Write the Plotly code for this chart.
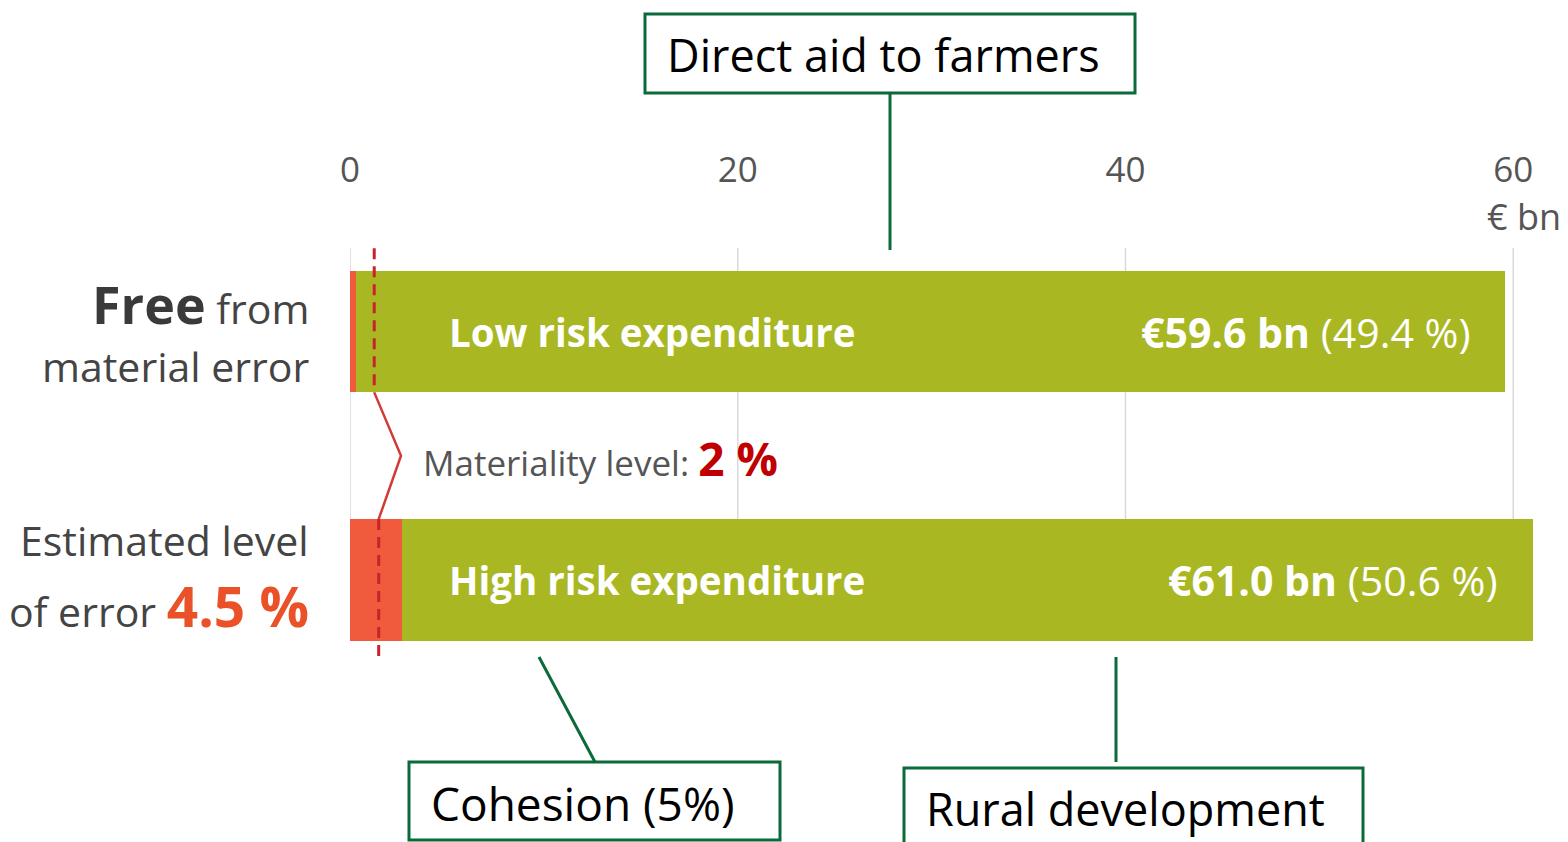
import plotly.graph_objects as go

# ---- data ----
categories = ["High risk expenditure", "Low risk expenditure"]
totals_bn = [61.0, 59.6]
shares_pct = [50.6, 49.4]
error_part_bn = [2.7, 0.3]
materiality_x = [1.48, 1.25]
tick_vals = [0, 20, 40, 60]
tick_text = ["0", "20", "40", "60"]

green_part = [t - e for t, e in zip(totals_bn, error_part_bn)]

W, H = 1568, 842
OFF = 8  # page body margin
ML, MT = 350 - OFF, 248 - OFF
MR = W - (1552 - OFF)
MB = H - (662 - OFF)
PW, PH = W - ML - MR, H - MT - MB
FONT = "Open Sans"
GREEN = "#a9b822"
RED_BAR = "#ef5b3c"
BOX_GREEN = "#0a6a3a"
BAR_W = 0.49


def px(xp):
    return (xp - OFF - ML) / PW


def py(yp):
    return (H - MB - (yp - OFF)) / PH


fig = go.Figure()
fig.add_trace(go.Bar(y=categories, x=error_part_bn, orientation="h", width=BAR_W,
                     marker=dict(color=RED_BAR, line_width=0), hoverinfo="skip"))
fig.add_trace(go.Bar(y=categories, x=green_part, orientation="h", width=BAR_W,
                     marker=dict(color=GREEN, line_width=0), hoverinfo="skip"))

# materiality dashed lines
for i, m in enumerate(materiality_x):
    if i == 1:
        ys = [i + BAR_W / 2 + 0.09, i - BAR_W / 2]
    else:
        ys = [i + BAR_W / 2, i - BAR_W / 2 - 0.09]
    fig.add_trace(go.Scatter(x=[m, m], y=ys, mode="lines", yaxis="y2",
                             line=dict(color="#c8232c", width=3, dash="11px,7px"),
                             hoverinfo="skip"))

# chevron
fig.add_trace(go.Scatter(x=[materiality_x[1], 2.63, materiality_x[0]],
                         y=[1 - BAR_W / 2, 0.5, BAR_W / 2], mode="lines", yaxis="y2",
                         line=dict(color="#d23a3a", width=2.5), hoverinfo="skip"))

yr = [-0.33, 1.336]
fig.update_layout(
    width=W, height=H, barmode="stack", showlegend=False,
    margin=dict(l=ML, r=MR, t=MT, b=MB),
    plot_bgcolor="white", paper_bgcolor="white",
    font=dict(family=FONT, color="#444"),
    xaxis=dict(range=[0, 62], side="top", tickvals=tick_vals, ticktext=tick_text,
               showgrid=False, zeroline=False,
               showline=False, ticks="", ticklabelstandoff=58,
               tickfont=dict(size=35, color="#555", family=FONT)),
    yaxis=dict(range=yr, showticklabels=False, showgrid=False, zeroline=False,
               showline=False, ticks=""),
    yaxis2=dict(range=yr, type="linear", overlaying="y", showticklabels=False,
                showgrid=False, zeroline=False, showline=False, ticks=""),
)

shapes = []
# gridlines (stop at the bottom bar)
for t in tick_vals:
    shapes.append(dict(type="line", xref="x", yref="y2", x0=t, x1=t,
                       y0=-BAR_W / 2, y1=yr[1], layer="below",
                       line=dict(color="#d9d9d9", width=1.5)))

# callout boxes and connectors
boxes = [
    (645, 14, 1135, 93),
    (409, 762, 780, 840),
    (904, 768, 1363, 860),
]
for x0, y0, x1, y1 in boxes:
    shapes.append(dict(type="rect", xref="paper", yref="paper", x0=px(x0), x1=px(x1),
                       y0=py(y1), y1=py(y0), line=dict(color=BOX_GREEN, width=3),
                       fillcolor="rgba(0,0,0,0)"))
connectors = [
    (890, 93, 890, 250),
    (539, 657, 595, 762),
    (1116, 657, 1116, 762),
]
for x0, y0, x1, y1 in connectors:
    shapes.append(dict(type="line", xref="paper", yref="paper", x0=px(x0), x1=px(x1),
                       y0=py(y0), y1=py(y1), line=dict(color=BOX_GREEN, width=3)))
fig.update_layout(shapes=shapes)

ann = []
# box texts
for txt, xl, yc, sz in [("Direct aid to farmers", 665, 55, 45),
                        ("Cohesion (5%)", 429, 803, 46),
                        ("Rural development", 924, 808, 45)]:
    ann.append(dict(text=txt, xref="paper", yref="paper", x=px(xl), y=py(yc),
                    xanchor="left", yanchor="middle", showarrow=False,
                    font=dict(size=sz, color="black", family=FONT)))

# unit label
ann.append(dict(text="€ bn", xref="paper", yref="paper", x=px(1485), y=py(217),
                xanchor="left", yanchor="middle", showarrow=False,
                font=dict(size=36, color="#555", family=FONT)))

# left labels
left = [
    ('<span style="font-size:52px;font-weight:bold;color:#3a3a3a">Free</span> from', 303),
    ("material error", 366),
    ("Estimated level", 540),
    ('of error <span style="font-size:55px;font-weight:bold;color:#ea5128">4.5 %</span>', 605),
]
for txt, yc in left:
    ann.append(dict(text=txt, xref="paper", yref="paper", x=px(311), y=py(yc),
                    xanchor="right", yanchor="middle", showarrow=False,
                    font=dict(size=41, color="#444", family=FONT)))

# materiality label
ann.append(dict(text='Materiality level: <span style="font-size:46px;font-weight:bold;color:#c00000">2 %</span>',
                x=3.65, y=0.49, xref="x", yref="y2", xanchor="left", yanchor="middle",
                showarrow=False, font=dict(size=35, color="#555", family=FONT)))

# bar labels
for i, cat in enumerate(categories):
    ann.append(dict(text=f"<b>{cat}</b>", x=5.0, y=i, xref="x", yref="y2",
                    xanchor="left", yanchor="middle", showarrow=False,
                    font=dict(size=38.5, color="white", family=FONT)))
    ann.append(dict(text=f"<b>€{totals_bn[i]:.1f} bn</b> ({shares_pct[i]:.1f} %)",
                    x=totals_bn[i] - 1.7, y=i, xref="x", yref="y2",
                    xanchor="right", yanchor="middle", showarrow=False,
                    font=dict(size=41, color="white", family=FONT)))

fig.update_layout(annotations=ann)
fig.write_html("out.html")
